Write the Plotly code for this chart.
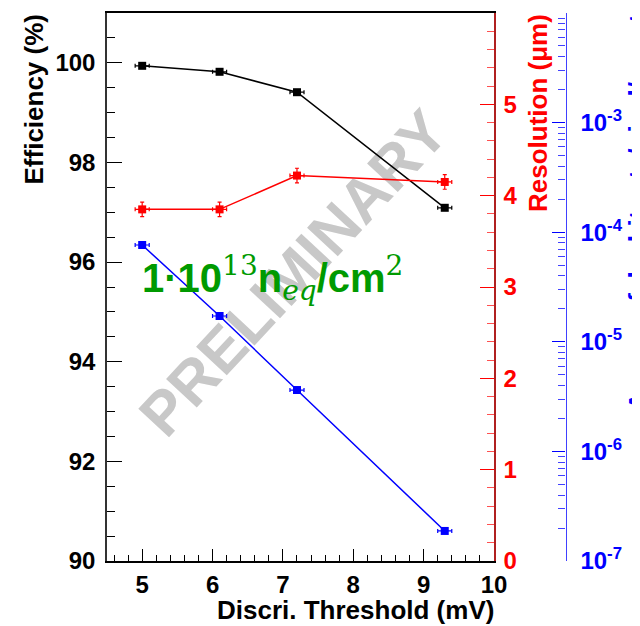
import plotly.graph_objects as go

# ---- data ----
threshold = [5.0, 6.1, 7.2, 9.3]
threshold_err = [0.1, 0.1, 0.1, 0.1]
efficiency = [99.94, 99.82, 99.41, 97.09]
efficiency_err = [0.03, 0.03, 0.03, 0.04]
resolution = [3.85, 3.85, 4.22, 4.15]
resolution_err = [0.08, 0.08, 0.08, 0.08]
fake_rate = [7.64e-5, 1.72e-5, 3.63e-6, 1.88e-7]
log_tickvals = [1e-7, 1e-6, 1e-5, 1e-4, 1e-3]
log_ticktext = ["10<sup>-7</sup>", "10<sup>-6</sup>", "10<sup>-5</sup>", "10<sup>-4</sup>", "10<sup>-3</sup>"]

FONT = "Liberation Sans, Arial, sans-serif"
OFF = 8  # page body margin offset of the figure inside the window
W, H = 640 - OFF, 626 - OFF
# plot frame in window pixels: left 107, right 494, top 13, bottom 561
L = 107 - OFF
T = 13 - OFF
B = H - (561 - OFF)
R = 0
PW = W - L - R
PH = H - T - B
x_right = 494
blue_axis_x = 565.5


def px_x(p):
    return (p - OFF - L) / PW


def px_y(p):
    return (H - B - (p - OFF)) / PH


fig = go.Figure()

fig.add_trace(go.Scatter(
    x=threshold, y=efficiency, mode="lines+markers",
    line=dict(color="black", width=1.5),
    marker=dict(symbol="square", size=8, color="black"),
    error_x=dict(type="data", array=threshold_err, color="black", thickness=1.2, width=2),
    error_y=dict(type="data", array=efficiency_err, color="black", thickness=1.2, width=2),
    xaxis="x", yaxis="y", showlegend=False))

fig.add_trace(go.Scatter(
    x=threshold, y=resolution, mode="lines+markers",
    line=dict(color="#ff0000", width=1.5),
    marker=dict(symbol="square", size=8, color="#ff0000"),
    error_x=dict(type="data", array=threshold_err, color="#ff0000", thickness=1.2, width=2),
    error_y=dict(type="data", array=resolution_err, color="#ff0000", thickness=1.2, width=2),
    xaxis="x", yaxis="y2", showlegend=False))

fig.add_trace(go.Scatter(
    x=threshold, y=fake_rate, mode="lines+markers",
    line=dict(color="#0000ff", width=1.5),
    marker=dict(symbol="square", size=8, color="#0000ff"),
    error_x=dict(type="data", array=threshold_err, color="#0000ff", thickness=1.2, width=2),
    xaxis="x", yaxis="y3", showlegend=False))

tickfont_black = dict(family=FONT, size=24, color="black", weight="bold")

fig.update_layout(
    width=W, height=H,
    margin=dict(l=L, r=R, t=T, b=B, pad=0, autoexpand=False),
    paper_bgcolor="white", plot_bgcolor="white",
    xaxis=dict(
        domain=[0, px_x(x_right)], range=[4.5, 10], automargin=False,
        showgrid=False, zeroline=False,
        showline=True, linecolor="black", linewidth=1.5, mirror=True,
        ticks="inside", ticklen=12, tickwidth=1, tickcolor="black",
        tickvals=[5, 6, 7, 8, 9, 10],
        tickfont=tickfont_black, ticklabelstandoff=1,
        minor=dict(ticks="inside", ticklen=6, dtick=0.2, tickcolor="black", tickwidth=1, showgrid=False),
    ),
    yaxis=dict(
        range=[90, 101], automargin=False, showgrid=False, zeroline=False,
        showline=True, linecolor="#333333", linewidth=1.5,
        ticks="inside", ticklen=15, tickwidth=1, tickcolor="black",
        tickvals=[90, 92, 94, 96, 98, 100],
        tickfont=tickfont_black, ticklabelstandoff=5,
        minor=dict(ticks="inside", ticklen=8, dtick=0.5, tickcolor="black", tickwidth=1, showgrid=False),
    ),
    yaxis2=dict(
        range=[0, 6], overlaying="y", side="right", anchor="x", automargin=False,
        showgrid=False, zeroline=False,
        showline=True, linecolor="#b02020", linewidth=1.5,
        ticks="inside", ticklen=14, tickwidth=1, tickcolor="#ff0000",
        tickvals=[0, 1, 2, 3, 4, 5, 6],
        tickfont=dict(family=FONT, size=24, color="#ff0000", weight="bold"),
        ticklabelstandoff=3,
        minor=dict(ticks="inside", ticklen=7, dtick=0.2, tickcolor="#ff5050", tickwidth=1, showgrid=False),
    ),
    yaxis3=dict(
        type="log", range=[-7, -2.0], overlaying="y", side="right", automargin=False,
        anchor="free", position=px_x(blue_axis_x),
        showgrid=False, zeroline=False,
        showline=True, linecolor="#4040ff", linewidth=1.2,
        ticks="inside", ticklen=13, tickwidth=1, tickcolor="#0000ff",
        tickvals=log_tickvals, ticktext=log_ticktext,
        tickfont=dict(family=FONT, size=24, color="#0000ff", weight="bold"),
        ticklabelstandoff=9,
        minor=dict(ticks="inside", ticklen=7, dtick="D1", tickcolor="#4040ff", tickwidth=1, showgrid=False),
    ),
)

# watermark below the data
fig.add_shape(
    type="rect", xref="paper", yref="paper",
    x0=px_x(280), x1=px_x(298), y0=px_y(278), y1=px_y(260),
    line=dict(width=0), fillcolor="rgba(0,0,0,0)", layer="below",
    label=dict(text="<b>PRELIMINARY</b>", textangle=-47, textposition="middle center",
               font=dict(family=FONT, size=61, color="#c8c8c8")),
)

annotations = [
    dict(text="<b>Discri. Threshold (mV)</b>", x=px_x(496), y=px_y(610),
         xanchor="right", yanchor="middle", font=dict(family=FONT, size=26, color="black")),
    dict(text="<b>Efficiency (%)</b>", x=px_x(34), y=px_y(12), textangle=-90,
         xanchor="center", yanchor="top", font=dict(family=FONT, size=26, color="black")),
    dict(text="<b>Resolution (μm)</b>", x=px_x(538), y=px_y(12), textangle=-90,
         xanchor="center", yanchor="top", font=dict(family=FONT, size=26, color="#ff0000")),
    dict(text="<b>Average fake hit rate/pixel/event</b>", x=px_x(638), y=px_y(12), textangle=-90,
         xanchor="center", yanchor="top", font=dict(family=FONT, size=26, color="#0000ff")),
    dict(text=("<b>1·10</b><sup><span style='font-family:DejaVu Serif, serif;font-weight:normal'>13</span></sup>"
               "<b>n</b><sub><span style='font-family:DejaVu Serif, serif;font-style:italic;font-weight:normal'>eq</span></sub>"
               "<b>/cm</b><sup><span style='font-family:DejaVu Serif, serif;font-weight:normal'>2</span></sup>"),
         x=px_x(140), y=px_y(278), xanchor="left", yanchor="middle",
         font=dict(family=FONT, size=40, color="#009a00")),
]
for a in annotations:
    a.update(xref="paper", yref="paper", showarrow=False)
    fig.add_annotation(**a)

fig.write_html("out.html")
